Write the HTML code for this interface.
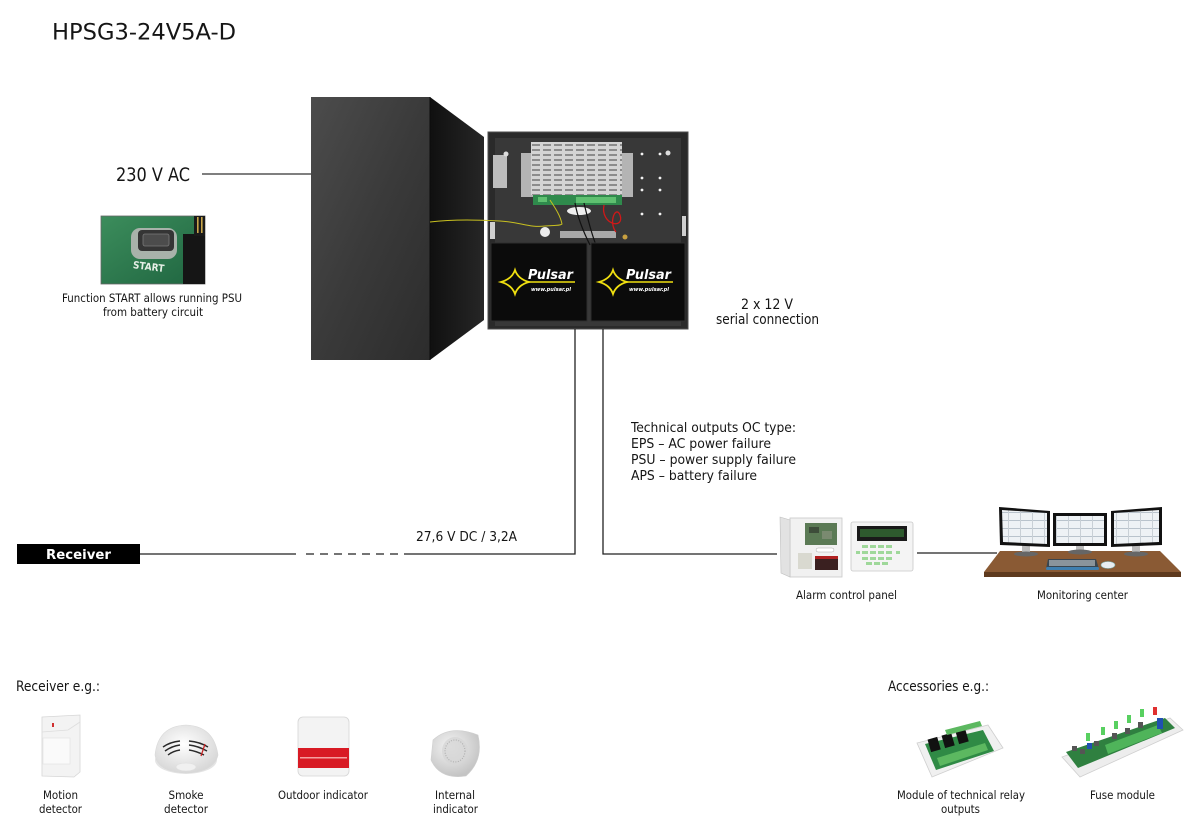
<!DOCTYPE html>
<html><head><meta charset="utf-8">
<style>
html,body{margin:0;padding:0;background:#fff;}
svg{display:block;}
text{font-family:"DejaVu Sans Condensed","DejaVu Sans","Liberation Sans",sans-serif;fill:#151515;}
</style></head><body>
<svg width="1200" height="822" viewBox="0 0 1200 822" xmlns="http://www.w3.org/2000/svg">
<defs>
 <linearGradient id="door" x1="0" y1="0" x2="1" y2="1">
  <stop offset="0" stop-color="#4c4c4c"/><stop offset="0.5" stop-color="#3a3a3a"/><stop offset="1" stop-color="#2c2c2c"/>
 </linearGradient>
 <linearGradient id="side" x1="0" y1="0" x2="1" y2="0">
  <stop offset="0" stop-color="#101010"/><stop offset="1" stop-color="#262626"/>
 </linearGradient>
 <linearGradient id="green" x1="0" y1="0" x2="1" y2="1">
  <stop offset="0" stop-color="#3c8d5c"/><stop offset="1" stop-color="#1f6540"/>
 </linearGradient>
 <radialGradient id="dome" cx="0.45" cy="0.4" r="0.6">
  <stop offset="0" stop-color="#ffffff"/><stop offset="1" stop-color="#d8d8d8"/>
 </radialGradient>
 <radialGradient id="disk" cx="0.4" cy="0.35" r="0.65">
  <stop offset="0" stop-color="#f4f4f4"/><stop offset="1" stop-color="#c4c4c4"/>
 </radialGradient>
 <pattern id="slots" x="531" y="143" width="11" height="5" patternUnits="userSpaceOnUse">
  <rect x="1" y="1" width="8" height="2" fill="#8c8c8c"/>
 </pattern>
 <pattern id="scr" x="0" y="0" width="12" height="8" patternUnits="userSpaceOnUse">
  <rect width="12" height="8" fill="#eef2f5"/>
  <rect x="0" y="0" width="12" height="1" fill="#b9c3cc"/>
  <rect x="0" y="0" width="1" height="8" fill="#c9d0d6"/>
 </pattern>
</defs>

<!-- Title -->
<text x="52" y="39.5" font-size="22.6" font-family="DejaVu Sans" textLength="184" lengthAdjust="spacingAndGlyphs">HPSG3-24V5A-D</text>

<!-- 230 V AC -->
<text x="116" y="181" font-size="18.5" textLength="74" lengthAdjust="spacingAndGlyphs">230 V AC</text>
<line x1="202" y1="174" x2="311" y2="174" stroke="#333" stroke-width="1.3"/>

<!-- START photo -->
<rect x="101" y="216" width="104" height="68" fill="url(#green)" stroke="#666" stroke-width="0.8"/>
<rect x="131" y="228" width="46" height="31" rx="9" fill="#a8b2aa"/>
<rect x="138" y="230" width="36" height="21" rx="4" fill="#353535"/>
<rect x="143" y="234" width="26" height="12" rx="2" fill="#4c4c4c" stroke="#7a7a7a" stroke-width="0.8"/>
<text x="133" y="270" font-size="10" font-weight="bold" font-family="DejaVu Sans" transform="rotate(7 148 266)" style="fill:#e6efe6">START</text>
<rect x="183" y="234" width="22" height="50" fill="#151515"/>
<rect x="194" y="216" width="11" height="20" fill="#1a1a1a"/>
<rect x="197" y="217" width="1.6" height="16" fill="#c9a64a"/>
<rect x="201" y="217" width="1.6" height="16" fill="#c9a64a"/>
<text x="152" y="302" font-size="11.5" text-anchor="middle" textLength="180" lengthAdjust="spacingAndGlyphs">Function START allows running PSU</text>
<text x="153" y="316" font-size="11.5" text-anchor="middle" textLength="100" lengthAdjust="spacingAndGlyphs">from battery circuit</text>

<!-- Door -->
<path d="M311,97 L430,97 L430,360 L311,360 Z" fill="url(#door)"/>
<path d="M430,97 L484,137 L484,320 L430,360 Z" fill="url(#side)"/>
<line x1="430" y1="97" x2="430" y2="360" stroke="#0c0c0c" stroke-width="1"/>

<!-- Cabinet -->
<rect x="488" y="132" width="200" height="197" fill="#2a2a2a" stroke="#4d4d4d" stroke-width="1"/>
<rect x="495" y="138" width="186" height="188" fill="#383838"/>
<rect x="521" y="153" width="112" height="44" fill="#b4b4b4"/>
<rect x="531" y="142" width="91" height="53" fill="#d4d4d4"/>
<rect x="531" y="142" width="91" height="53" fill="url(#slots)"/>
<rect x="533" y="195" width="89" height="10" fill="#2f8a4c"/>
<rect x="576" y="197" width="40" height="6" fill="#5fc070"/>
<rect x="538" y="197" width="9" height="5" fill="#5fc070"/>
<rect x="493" y="155" width="14" height="33" fill="#bdbdbd"/>
<circle cx="506" cy="154" r="2.5" fill="#ddd"/>
<circle cx="668" cy="153" r="2.5" fill="#ddd"/>
<g fill="#f2f2f2">
 <circle cx="642" cy="154" r="1.4"/><circle cx="660" cy="154" r="1.4"/>
 <circle cx="642" cy="178" r="1.4"/><circle cx="660" cy="178" r="1.4"/>
 <circle cx="642" cy="190" r="1.4"/><circle cx="660" cy="190" r="1.4"/>
 <circle cx="642" cy="214" r="1.4"/><circle cx="660" cy="214" r="1.4"/>
</g>
<ellipse cx="579" cy="211" rx="12" ry="4" fill="#eeeeee"/>
<rect x="560" y="231" width="56" height="7" fill="#a9a9a9"/>
<circle cx="545" cy="232" r="5" fill="#ececec"/>
<rect x="490" y="222" width="5" height="17" fill="#cfcfcf"/>
<rect x="682" y="216" width="4" height="20" fill="#cfcfcf"/>
<path d="M575,203 C578,220 585,235 590,245" stroke="#111" stroke-width="1.2" fill="none"/>
<path d="M584,203 C588,220 592,235 596,245" stroke="#111" stroke-width="1.2" fill="none"/>
<path d="M604,205 C600,225 625,230 620,215 C616,205 608,222 616,232" stroke="#d01818" stroke-width="1.3" fill="none"/>
<circle cx="625" cy="237" r="2.5" fill="#c8a040"/>
<path d="M430,222 C455,219 480,220 500,221 C520,222 530,228 545,226 C555,225 560,226 562,224 C560,214 553,205 550,200" stroke="#c8c020" stroke-width="1" fill="none"/>
<!-- Batteries -->
<rect x="491" y="243" width="96" height="78" fill="#0b0b0b" stroke="#2e2e2e" stroke-width="1"/>
<rect x="591" y="243" width="94" height="78" fill="#0b0b0b" stroke="#2e2e2e" stroke-width="1"/>
<g>
 <path d="M501,282 Q512,279 515,270 Q518,279 529,282 Q518,285 515,294 Q512,285 501,282 Z" fill="none" stroke="#f0e010" stroke-width="1.8"/>
 <line x1="529" y1="282" x2="575" y2="282" stroke="#f0e010" stroke-width="1.6"/>
 <text x="528" y="279" font-size="13" font-weight="bold" font-style="italic" font-family="DejaVu Sans" style="fill:#ffffff" textLength="45" lengthAdjust="spacingAndGlyphs">Pulsar</text>
 <text x="531" y="291" font-size="5.5" font-weight="bold" font-style="italic" font-family="DejaVu Sans" style="fill:#ffffff" textLength="40" lengthAdjust="spacingAndGlyphs">www.pulsar.pl</text>
</g>
<g transform="translate(98,0)">
 <path d="M501,282 Q512,279 515,270 Q518,279 529,282 Q518,285 515,294 Q512,285 501,282 Z" fill="none" stroke="#f0e010" stroke-width="1.8"/>
 <line x1="529" y1="282" x2="575" y2="282" stroke="#f0e010" stroke-width="1.6"/>
 <text x="528" y="279" font-size="13" font-weight="bold" font-style="italic" font-family="DejaVu Sans" style="fill:#ffffff" textLength="45" lengthAdjust="spacingAndGlyphs">Pulsar</text>
 <text x="531" y="291" font-size="5.5" font-weight="bold" font-style="italic" font-family="DejaVu Sans" style="fill:#ffffff" textLength="40" lengthAdjust="spacingAndGlyphs">www.pulsar.pl</text>
</g>

<!-- 2 x 12 V -->
<text x="767" y="309" font-size="14" text-anchor="middle">2 x 12 V</text>
<text x="767.5" y="324" font-size="14" text-anchor="middle" textLength="103" lengthAdjust="spacingAndGlyphs">serial connection</text>

<!-- Technical outputs -->
<text x="631" y="432" font-size="13.7" textLength="165" lengthAdjust="spacingAndGlyphs">Technical outputs OC type:</text>
<text x="631" y="448" font-size="13.7" textLength="140" lengthAdjust="spacingAndGlyphs">EPS – AC power failure</text>
<text x="631" y="464" font-size="13.7" textLength="165" lengthAdjust="spacingAndGlyphs">PSU – power supply failure</text>
<text x="631" y="480" font-size="13.7" textLength="126" lengthAdjust="spacingAndGlyphs">APS – battery failure</text>

<!-- connectors -->
<g stroke="#222" stroke-width="1.3" fill="none">
 <polyline points="575,329 575,554 404,554"/>
 <line x1="398" y1="554" x2="302" y2="554" stroke-dasharray="8 6"/>
 <line x1="296" y1="554" x2="140" y2="554"/>
 <polyline points="603,329 603,554 777,554"/>
 <line x1="917" y1="553" x2="997" y2="553"/>
</g>
<text x="416" y="541" font-size="13" textLength="101" lengthAdjust="spacingAndGlyphs">27,6 V DC / 3,2A</text>

<!-- Receiver box -->
<rect x="17" y="544" width="123" height="20" fill="#000"/>
<text x="78.5" y="559" font-size="13" font-weight="bold" font-family="DejaVu Sans" text-anchor="middle" style="fill:#fff" textLength="65" lengthAdjust="spacingAndGlyphs">Receiver</text>

<!-- Alarm control panel -->
<rect x="790" y="518" width="52" height="59" fill="#f1f1f1" stroke="#c8c8c8" stroke-width="0.8"/>
<path d="M780,517 L790,520 L790,577 L781,573 Z" fill="#e2e2e2" stroke="#c0c0c0" stroke-width="0.6"/>
<rect x="805" y="523" width="32" height="22" fill="#5b7a55"/>
<rect x="809" y="527" width="10" height="6" fill="#3d4d3a"/>
<rect x="822" y="531" width="10" height="8" fill="#7a8a70"/>
<rect x="816" y="548" width="18" height="4" rx="2" fill="#fff" stroke="#aaa" stroke-width="0.5"/>
<rect x="798" y="553" width="14" height="16" fill="#d9d9d0"/>
<rect x="815" y="556" width="23" height="14" fill="#3a2020"/>
<rect x="815" y="556" width="23" height="3" fill="#b02020"/>
<rect x="851" y="522" width="62" height="49" rx="2" fill="#f4f4f4" stroke="#c9c9c9" stroke-width="0.8"/>
<rect x="857" y="526" width="50" height="15" fill="#1a1a1a"/>
<rect x="860" y="529" width="44" height="8" fill="#2e5a2e"/>
<g fill="#9fd89a">
 <rect x="862" y="545" width="6" height="3"/><rect x="870" y="545" width="6" height="3"/><rect x="878" y="545" width="6" height="3"/><rect x="886" y="545" width="6" height="3"/>
 <rect x="862" y="551" width="6" height="3"/><rect x="870" y="551" width="6" height="3"/><rect x="878" y="551" width="6" height="3"/><rect x="886" y="551" width="6" height="3"/><rect x="896" y="551" width="4" height="3"/><rect x="856" y="551" width="4" height="3"/>
 <rect x="862" y="557" width="6" height="3"/><rect x="870" y="557" width="6" height="3"/><rect x="878" y="557" width="6" height="3"/><rect x="886" y="557" width="6" height="3"/>
 <rect x="866" y="562" width="6" height="3"/><rect x="874" y="562" width="6" height="3"/><rect x="882" y="562" width="6" height="3"/>
</g>
<text x="796" y="599" font-size="11.5" textLength="101" lengthAdjust="spacingAndGlyphs">Alarm control panel</text>

<!-- Monitoring center -->
<path d="M1000,551 L1160,551 L1181,572 L984,572 Z" fill="#8a5a34"/>
<rect x="984" y="572" width="197" height="5" fill="#5e3a1e"/>
<rect x="1022" y="545" width="8" height="8" fill="#bbb"/>
<rect x="1076" y="543" width="8" height="8" fill="#bbb"/>
<rect x="1132" y="545" width="8" height="8" fill="#bbb"/>
<ellipse cx="1026" cy="554" rx="12" ry="2.5" fill="#666"/>
<ellipse cx="1080" cy="552" rx="12" ry="2.5" fill="#666"/>
<ellipse cx="1136" cy="554" rx="12" ry="2.5" fill="#666"/>
<path d="M999,507 L1050,511 L1050,547 L1000,545 Z" fill="#111"/>
<path d="M1002,510 L1047,513 L1047,544 L1003,542 Z" fill="url(#scr)"/>
<rect x="1053" y="513" width="54" height="33" fill="#111"/>
<rect x="1056" y="516" width="48" height="27" fill="url(#scr)"/>
<path d="M1111,511 L1162,507 L1162,545 L1111,547 Z" fill="#111"/>
<path d="M1114,513 L1159,510 L1159,542 L1114,544 Z" fill="url(#scr)"/>
<path d="M1048,559 L1096,559 L1099,569 L1046,569 Z" fill="#3a4650"/>
<rect x="1049" y="560" width="46" height="6" fill="#8a949c"/>
<rect x="1046" y="567" width="53" height="3" rx="1.5" fill="#3f7fb0"/>
<ellipse cx="1108" cy="565" rx="7" ry="3.5" fill="#e8eef2" stroke="#7aa" stroke-width="0.6"/>
<text x="1037" y="599" font-size="11.5" textLength="91" lengthAdjust="spacingAndGlyphs">Monitoring center</text>

<!-- Receiver e.g. -->
<text x="16" y="691" font-size="14.5" textLength="84" lengthAdjust="spacingAndGlyphs">Receiver e.g.:</text>
<!-- motion detector -->
<path d="M42,717 L80,715 L80,772 L74,777 L42,776 Z" fill="#f3f3f3" stroke="#d6d6d6" stroke-width="0.8"/>
<path d="M42,732 L68,730 L80,722" stroke="#ddd" stroke-width="0.8" fill="none"/>
<rect x="43" y="738" width="27" height="26" fill="#fafafa" stroke="#e0e0e0" stroke-width="0.6"/>
<rect x="52" y="723" width="2" height="4" fill="#d03030"/>
<text x="60.5" y="799" font-size="11.5" text-anchor="middle" textLength="35" lengthAdjust="spacingAndGlyphs">Motion</text>
<text x="60.5" y="813" font-size="11.5" text-anchor="middle" textLength="43" lengthAdjust="spacingAndGlyphs">detector</text>
<!-- smoke detector -->
<ellipse cx="186" cy="760" rx="31" ry="14" fill="#e4e4e4"/>
<path d="M155,755 Q158,726 186,725 Q214,726 218,755 Q214,772 186,773 Q158,772 155,755 Z" fill="url(#dome)" stroke="#d8d8d8" stroke-width="0.6"/>
<g stroke="#2a2a2a" stroke-width="1.4" fill="none">
 <path d="M163,747 Q170,742 180,741"/><path d="M165,751 Q172,746 180,745"/><path d="M168,755 Q173,751 180,750"/>
 <path d="M189,741 Q200,742 208,747"/><path d="M189,745 Q198,746 207,751"/><path d="M189,750 Q196,751 204,755"/>
</g>
<line x1="205" y1="744" x2="201" y2="756" stroke="#c82020" stroke-width="1.2"/>
<ellipse cx="186" cy="767" rx="10" ry="4" fill="#f0f0f0" stroke="#ddd" stroke-width="0.5"/>
<text x="186" y="799" font-size="11.5" text-anchor="middle" textLength="35" lengthAdjust="spacingAndGlyphs">Smoke</text>
<text x="186" y="813" font-size="11.5" text-anchor="middle" textLength="44" lengthAdjust="spacingAndGlyphs">detector</text>
<!-- outdoor indicator -->
<rect x="298" y="717" width="51" height="59" rx="5" fill="#f3f3f3" stroke="#d5d5d5" stroke-width="0.8"/>
<rect x="298" y="748" width="51" height="20" fill="#d81a24"/>
<rect x="300" y="757" width="47" height="1.5" fill="#f5a0a0"/>
<text x="323" y="799" font-size="11.5" text-anchor="middle" textLength="90" lengthAdjust="spacingAndGlyphs">Outdoor indicator</text>
<!-- internal indicator -->
<path d="M433,740 Q450,724 478,735 Q484,760 466,776 Q440,780 431,760 Z" fill="url(#disk)" stroke="#cfcfcf" stroke-width="0.6"/>
<ellipse cx="455" cy="751" rx="13" ry="14" fill="#d6d6d6" opacity="0.8"/>
<ellipse cx="455" cy="751" rx="10" ry="11" fill="none" stroke="#aaa" stroke-width="1" stroke-dasharray="1 1.5"/>
<text x="455" y="799" font-size="11.5" text-anchor="middle" textLength="40" lengthAdjust="spacingAndGlyphs">Internal</text>
<text x="455.5" y="813" font-size="11.5" text-anchor="middle" textLength="45" lengthAdjust="spacingAndGlyphs">indicator</text>

<!-- Accessories -->
<text x="888" y="691" font-size="14.5" textLength="101" lengthAdjust="spacingAndGlyphs">Accessories e.g.:</text>
<!-- relay module -->
<path d="M917,743 L988,725 L1003,748 L932,777 Z" fill="#f0f0f0" stroke="#cfcfcf" stroke-width="0.8"/>
<path d="M925,744 L983,730 L994,751 L936,770 Z" fill="#2f8a45"/>
<rect x="929" y="738" width="10" height="13" fill="#111" transform="rotate(-16 934 744)"/>
<rect x="943" y="734" width="10" height="13" fill="#111" transform="rotate(-16 948 740)"/>
<rect x="957" y="730" width="10" height="13" fill="#111" transform="rotate(-16 962 736)"/>
<path d="M937,758 L985,743 L988,750 L940,766 Z" fill="#5cb860"/>
<path d="M945,730 L980,721 L982,726 L947,735 Z" fill="#5cb860"/>
<text x="897" y="799" font-size="11.5" textLength="128" lengthAdjust="spacingAndGlyphs">Module of technical relay</text>
<text x="960.5" y="813" font-size="11.5" text-anchor="middle" textLength="39" lengthAdjust="spacingAndGlyphs">outputs</text>
<!-- fuse module -->
<path d="M1062,757 L1170,718 L1183,730 L1080,777 Z" fill="#ededed" stroke="#cfcfcf" stroke-width="0.8"/>
<path d="M1066,752 L1165,718 L1175,728 L1078,768 Z" fill="#2f8040"/>
<path d="M1105,745 L1158,725 L1162,733 L1108,754 Z" fill="#4fb45a"/>
<rect x="1157" y="718" width="6" height="11" fill="#2050b0"/>
<rect x="1087" y="743" width="5" height="6" fill="#2050b0"/>
<g fill="#58d060">
 <rect x="1086" y="733" width="4" height="8"/><rect x="1101" y="727" width="4" height="8"/>
 <rect x="1114" y="721" width="4" height="8"/><rect x="1127" y="715" width="4" height="8"/>
 <rect x="1140" y="709" width="4" height="8"/>
</g>
<rect x="1153" y="707" width="4" height="8" fill="#e03030"/>
<g fill="#555">
 <rect x="1072" y="746" width="5" height="5"/><rect x="1080" y="749" width="5" height="5"/><rect x="1094" y="741" width="5" height="5"/><rect x="1112" y="733" width="5" height="6"/><rect x="1125" y="728" width="5" height="6"/><rect x="1138" y="722" width="5" height="6"/>
</g>
<text x="1090" y="799" font-size="11.5" textLength="65" lengthAdjust="spacingAndGlyphs">Fuse module</text>
</svg>
</body></html>
